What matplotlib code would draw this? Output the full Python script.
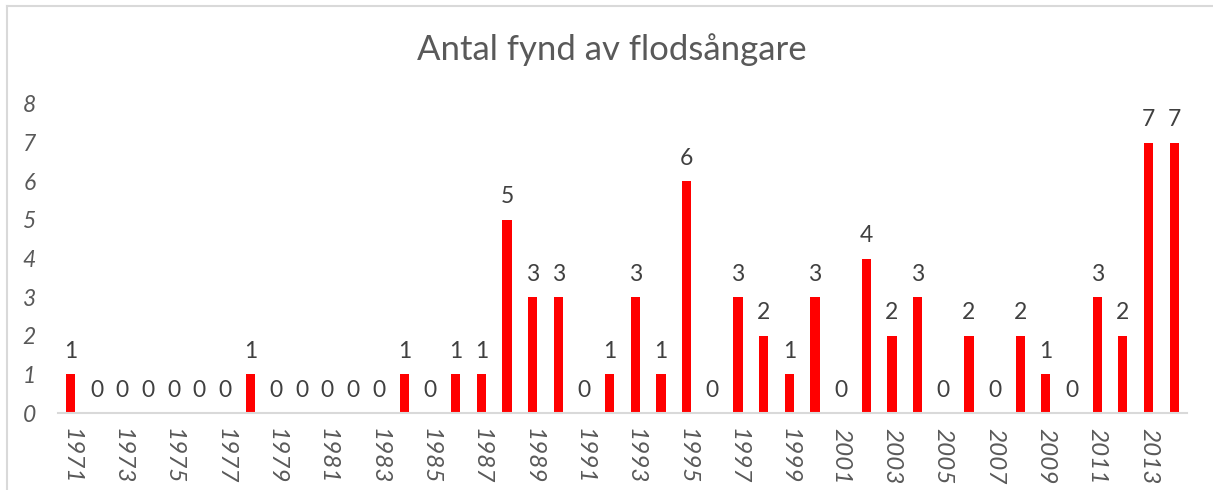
import matplotlib
matplotlib.use("Agg")
import matplotlib.pyplot as plt
from matplotlib.lines import Line2D

years = list(range(1971, 2015))
counts = [1, 0, 0, 0, 0, 0, 0, 1, 0, 0, 0, 0, 0, 1, 0, 1, 1, 5, 3, 3,
          0, 1, 3, 1, 6, 0, 3, 2, 1, 3, 0, 4, 2, 3, 0, 2, 0, 2, 1, 0,
          3, 2, 7, 7]
title = "Antal fynd av flodsångare"
yticks = list(range(0, 9))

plt.rcParams['font.family'] = ['Lato', 'DejaVu Sans']

fig = plt.figure(figsize=(12.13, 4.9), dpi=100)
ax = fig.add_axes([58/1213, 1-413/490, (1187-58)/1213, (413-104)/490])

x = list(range(len(years)))
bars = ax.bar(x, counts, width=0.36, color='#FF0000', zorder=2)

for xi, v in zip(x, counts):
    ax.annotate(str(v), (xi, v), xytext=(0, 9), textcoords='offset points',
                ha='center', va='bottom', fontsize=16.5, color='#404040')

ax.set_xlim(-0.5, len(years) - 0.5)
ax.set_ylim(0, 8)
ax.set_yticks(yticks)
ax.set_yticklabels([str(t) for t in yticks], fontsize=16.5, color='#595959', style='italic')

tick_pos = [i for i, y in enumerate(years) if y % 2 == 1]
ax.set_xticks(tick_pos)
ax.set_xticklabels([str(years[i]) for i in tick_pos], rotation=270, fontsize=17.5,
                   color='#595959', style='italic', ha='center', va='top')
ax.tick_params(axis='x', length=0, pad=11)
ax.tick_params(axis='y', length=0, pad=16)

for s in ['top', 'right', 'left']:
    ax.spines[s].set_visible(False)
ax.spines['bottom'].set_color('#D9D9D9')
ax.spines['bottom'].set_linewidth(1.5)

fig.text(0.504, 1-50/490, title, ha='center', va='center', fontsize=25, color='#595959')

# chart frame
fig.add_artist(Line2D([7/1213, 1], [1-6/490, 1-6/490], transform=fig.transFigure, color='#D9D9D9', lw=1.5))
fig.add_artist(Line2D([7/1213, 7/1213], [0, 1-6/490], transform=fig.transFigure, color='#D9D9D9', lw=1.5))

fig.savefig('out.png', dpi=100)
